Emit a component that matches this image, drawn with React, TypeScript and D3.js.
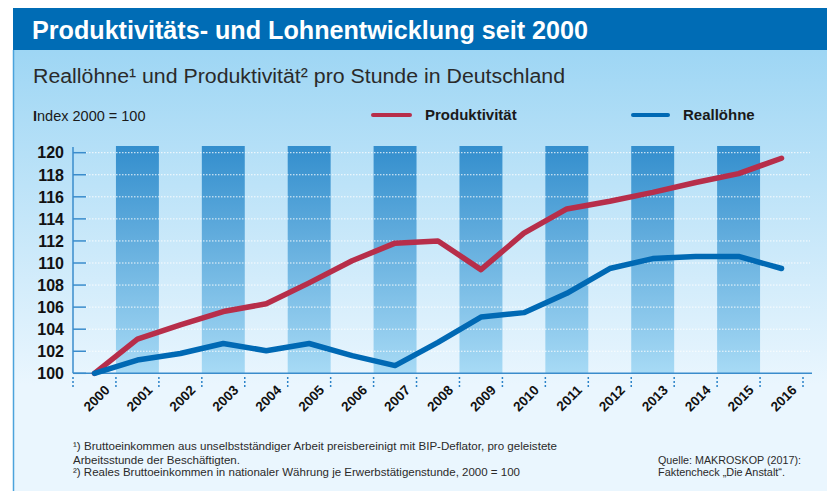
import React from "react";
import * as d3 from "d3";

const years = ["2000","2001","2002","2003","2004","2005","2006","2007","2008","2009","2010","2011","2012","2013","2014","2015","2016"];
const produktivitaet = [100, 103.1, 104.4, 105.6, 106.3, 108.2, 110.2, 111.8, 112.0, 109.4, 112.7, 114.9, 115.6, 116.4, 117.3, 118.1, 119.5];
const realloehne = [100, 101.2, 101.8, 102.7, 102.05, 102.7, 101.6, 100.7, 102.8, 105.1, 105.5, 107.25, 109.5, 110.4, 110.6, 110.6, 109.5];
const yTicks = [100, 102, 104, 106, 108, 110, 112, 114, 116, 118, 120];

const W = 827, H = 491;
const FONT = "'Liberation Sans', Arial, sans-serif";
const RED = "#b72e4a";
const BLUE = "#0069b4";

export default function App() {
  const x = d3.scaleBand<string>().domain(years).range([73, 803]).padding(0);
  const y = d3.scaleLinear().domain([100, 120]).range([373.3, 152.7]);
  const cx = (yr: string) => (x(yr) as number) + x.bandwidth() / 2;
  const line = d3.line<number>().x((_, i) => cx(years[i])).y((v) => y(v));
  const boundaries = years.map((yr) => x(yr) as number).concat([803]);

  return (
    <svg width={W} height={H} style={{ position: "absolute", left: 0, top: 0, display: "block" }}>
      <defs>
        <linearGradient id="bg" gradientUnits="userSpaceOnUse" x1="0" y1="50" x2="0" y2="385">
          <stop offset="0" stopColor="#9ed6f4" />
          <stop offset="1" stopColor="#eaf6fe" />
        </linearGradient>
        <linearGradient id="band" gradientUnits="userSpaceOnUse" x1="0" y1="146" x2="0" y2="373">
          <stop offset="0" stopColor="#338ecd" />
          <stop offset="1" stopColor="#a7daf5" />
        </linearGradient>
      </defs>
      <rect x={0} y={0} width={W} height={H} fill="#ffffff" />
      <rect x={13} y={50} width={W - 13} height={H - 50} fill="url(#bg)" />
      <line x1={13.5} y1={50} x2={13.5} y2={H} stroke="#4ba3dc" strokeWidth={1.5} />
      <rect x={13} y={8} width={W - 13} height={42} fill="#006cb5" />
      <text x={32} y={39} fill="#ffffff" fontFamily={FONT} fontWeight="bold" fontSize={25}
        textLength={556} lengthAdjust="spacingAndGlyphs">Produktivitäts- und Lohnentwicklung seit 2000</text>
      <text x={33} y={83} fill="#2a2a2a" fontFamily={FONT} fontSize={20}
        textLength={532} lengthAdjust="spacingAndGlyphs">Reallöhne¹ und Produktivität² pro Stunde in Deutschland</text>
      <text x={33} y={121} fill="#1a1a1a" fontFamily={FONT} fontSize={14.5}>
        <tspan fontWeight="bold">I</tspan>ndex 2000 = 100</text>

      {/* legend */}
      <line x1={373} y1={115} x2={410} y2={115} stroke={RED} strokeWidth={4} strokeLinecap="round" />
      <text x={425} y={120} fill="#1a1a1a" fontFamily={FONT} fontWeight="bold" fontSize={15}>Produktivität</text>
      <line x1={633} y1={115} x2={668} y2={115} stroke={BLUE} strokeWidth={4} strokeLinecap="round" />
      <text x={683} y={120} fill="#1a1a1a" fontFamily={FONT} fontWeight="bold" fontSize={15}>Reallöhne</text>

      {/* bands */}
      {years.map((yr, i) => i % 2 === 1 ? (
        <rect key={yr} x={x(yr)} y={146} width={x.bandwidth()} height={373.3 - 146} fill="url(#band)" />
      ) : null)}

      {/* grid */}
      {yTicks.filter((t) => t > 100).map((t) => (
        <line key={t} x1={86} x2={810} y1={y(t)} y2={y(t)} stroke="#ffffff" strokeOpacity={0.9}
          strokeWidth={1} strokeDasharray="1.5,1.5" />
      ))}

      {/* y axis */}
      <line x1={73} x2={73} y1={147} y2={373.3} stroke="#3a8ccc" strokeWidth={1.5} />
      {yTicks.map((t) => (
        <g key={t}>
          <line x1={73} x2={86} y1={y(t)} y2={y(t)} stroke="#3a8ccc" strokeWidth={1.5} />
          <text x={64} y={y(t)} dy="0.36em" textAnchor="end" fontFamily={FONT} fontWeight="bold"
            fontSize={16} fill="#111">{t}</text>
        </g>
      ))}

      {/* x axis */}
      <line x1={73} x2={812} y1={373.3} y2={373.3} stroke="#3a8ccc" strokeWidth={1.5} />
      {boundaries.map((b, i) => (
        <line key={i} x1={b} x2={b} y1={377} y2={388} stroke="#2b83c8" strokeWidth={1.5} strokeDasharray="2,2" />
      ))}
      {years.map((yr) => (
        <text key={yr} transform={`translate(${cx(yr) + 16},${391}) rotate(-45)`} textAnchor="end"
          fontFamily={FONT} fontWeight="bold" fontSize={13.5} fill="#111">{yr}</text>
      ))}

      {/* lines */}
      <path d={line(produktivitaet) || ""} fill="none" stroke={RED} strokeWidth={5.5}
        strokeLinejoin="round" strokeLinecap="round" />
      <path d={line(realloehne) || ""} fill="none" stroke={BLUE} strokeWidth={5.5}
        strokeLinejoin="round" strokeLinecap="round" />

      {/* footnotes */}
      <g fontFamily={FONT} fontSize={11.5} fill="#2a2a2a">
        <text x={73} y={450} textLength={484} lengthAdjust="spacingAndGlyphs">¹) Bruttoeinkommen aus unselbstständiger Arbeit preisbereinigt mit BIP-Deflator, pro geleistete</text>
        <text x={73} y={463.5} textLength={167} lengthAdjust="spacingAndGlyphs">Arbeitsstunde der Beschäftigten.</text>
        <text x={73} y={476} textLength={447} lengthAdjust="spacingAndGlyphs">²) Reales Bruttoeinkommen in nationaler Währung je Erwerbstätigenstunde, 2000 = 100</text>
        <text x={658} y={463.5} textLength={143} lengthAdjust="spacingAndGlyphs">Quelle: MAKROSKOP (2017):</text>
        <text x={658} y={476} textLength={127} lengthAdjust="spacingAndGlyphs">Faktencheck „Die Anstalt“.</text>
      </g>
    </svg>
  );
}
